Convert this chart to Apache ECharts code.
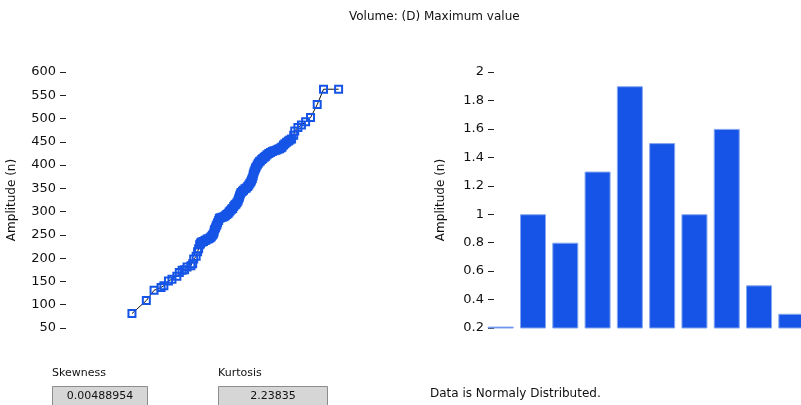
<!DOCTYPE html>
<html>
<head>
<meta charset="utf-8">
<script src="https://cdn.jsdelivr.net/npm/echarts@6/dist/echarts.min.js"></script>
<style>
  html, body { margin: 0; padding: 0; background: #fff; }
  #main { width: 801px; height: 405px; }
</style>
</head>
<body>
<div id="main"></div>
<script>
// normal probability plot: theoretical quantile (x) vs sorted maximum value (y)
const qqX = [-2.95, -2.54, -2.32, -2.12, -2.04, -1.91, -1.81, -1.67, -1.60, -1.52,
  -1.45, -1.38, -1.27, -1.22, -1.19, -1.12, -1.08, -1.05,
  -1.02, -1.00, -0.98, -0.95, -0.91, -0.87, -0.84, -0.80, -0.76, -0.72,
  -0.69, -0.66, -0.63, -0.61, -0.60, -0.57, -0.55, -0.53, -0.51, -0.48,
  -0.46, -0.42, -0.38, -0.33, -0.29, -0.25, -0.21, -0.18, -0.15, -0.11,
  -0.08, -0.05, -0.02, 0.01, 0.04, 0.07, 0.09, 0.11, 0.12, 0.14,
  0.16, 0.20, 0.23, 0.27, 0.31, 0.35, 0.38, 0.41, 0.44, 0.46,
  0.48, 0.50, 0.51, 0.53, 0.55, 0.57, 0.59, 0.62, 0.65, 0.68,
  0.71, 0.75, 0.78, 0.82, 0.86, 0.90, 0.95, 1.00, 1.05, 1.10,
  1.16, 1.21, 1.26, 1.30, 1.33, 1.37, 1.41, 1.46, 1.51, 1.55,
  1.60, 1.66, 1.69, 1.78, 1.88, 2.00, 2.14, 2.33, 2.51, 2.94]
const qqY = [81, 109, 131, 137, 141, 151, 155, 161, 169, 174,
  175, 181, 184, 188, 198, 204, 214, 220,
  229, 231, 234, 235, 236, 238, 239, 241, 242, 244,
  246, 249, 252, 256, 261, 265, 269, 272, 276, 281,
  286, 287, 288, 289, 291, 294, 296, 299, 302, 305,
  307, 311, 314, 316, 319, 323, 327, 331, 334, 338,
  341, 344, 346, 349, 351, 354, 357, 361, 364, 368,
  371, 376, 381, 385, 389, 393, 396, 400, 404, 407,
  409, 412, 414, 417, 419, 422, 425, 427, 429, 431,
  432, 434, 435, 437, 439, 443, 446, 449, 452, 454,
  456, 464, 473, 481, 486, 493, 502, 530, 563, 563]

// histogram bins
const binX = [0, 1, 2, 3, 4, 5, 6, 7, 8, 9]
const binY = [0.21, 1.0, 0.8, 1.3, 1.9, 1.5, 1.0, 1.6, 0.5, 0.3]

const titleText = 'Volume: (D) Maximum value'
const skewness = '0.00488954'
const kurtosis = '2.23835'
const verdict = 'Data is Normaly Distributed.'

const FONT = 'DejaVu Sans'
const BLUE = '#1554e6'

let chart = echarts.init(document.getElementById('main'))

let yAxisCommon = {
  axisLine: { show: false, onZero: false },
  splitLine: { show: false },
  axisTick: { show: true, length: 6, lineStyle: { color: '#222' } },
  axisLabel: { color: '#111', fontFamily: FONT, fontSize: 13, margin: 10 },
  nameLocation: 'middle',
  nameTextStyle: { color: '#111', fontFamily: FONT, fontSize: 12 }
}

let option = {
  backgroundColor: '#fff',
  animation: false,
  title: {
    text: titleText,
    left: 344,
    top: 6,
    textStyle: { color: '#111', fontFamily: FONT, fontSize: 12, fontWeight: 'normal' }
  },
  grid: [
    { left: 66, top: 72, width: 334, bottom: 77, containLabel: false },
    { left: 497, top: 72, right: 0, bottom: 77, containLabel: false }
  ],
  xAxis: [
    { type: 'value', gridIndex: 0, min: -4.83, max: 4.69, show: false },
    { type: 'value', gridIndex: 1, min: -0.115, max: 9.3, show: false }
  ],
  yAxis: [
    Object.assign({}, yAxisCommon, {
      type: 'value', gridIndex: 0, min: 50, max: 600, interval: 50,
      name: 'Amplitude (n)', nameGap: 48
    }),
    Object.assign({}, yAxisCommon, {
      type: 'value', gridIndex: 1, min: 0.2, max: 2, interval: 0.2,
      offset: 3,
      name: 'Amplitude (n)', nameGap: 47
    })
  ],
  series: [
    {
      type: 'line',
      xAxisIndex: 0,
      yAxisIndex: 0,
      data: qqX.map((x, i) => [x, qqY[i]]),
      symbol: 'rect',
      symbolSize: 7,
      showAllSymbol: true,
      lineStyle: { color: '#111', width: 1 },
      itemStyle: { color: 'rgba(255,255,255,0)', borderColor: BLUE, borderWidth: 2 }
    },
    {
      type: 'bar',
      xAxisIndex: 1,
      yAxisIndex: 1,
      data: binX.map((x, i) => [x, binY[i]]),
      barWidth: 26,
      clip: true,
      itemStyle: { color: BLUE, borderColor: '#86a6f0', borderWidth: 1 }
    }
  ],
  graphic: [
    { type: 'text', left: 52, top: 368, style: { text: 'Skewness', fill: '#111', font: '11px "DejaVu Sans"' } },
    { type: 'rect', shape: { x: 52.5, y: 386.5, width: 95, height: 24 },
      style: { fill: '#d6d6d6', stroke: '#8c8c8c', lineWidth: 1 } },
    { type: 'text', x: 100, y: 396, style: { text: skewness, fill: '#111', font: '11px "DejaVu Sans"', align: 'center', verticalAlign: 'middle' } },
    { type: 'text', left: 218, top: 368, style: { text: 'Kurtosis', fill: '#111', font: '11px "DejaVu Sans"' } },
    { type: 'rect', shape: { x: 218.5, y: 386.5, width: 109, height: 24 },
      style: { fill: '#d6d6d6', stroke: '#8c8c8c', lineWidth: 1 } },
    { type: 'text', x: 273, y: 396, style: { text: kurtosis, fill: '#111', font: '11px "DejaVu Sans"', align: 'center', verticalAlign: 'middle' } },
    { type: 'text', left: 430, top: 388, style: { text: verdict, fill: '#111', font: '12px "DejaVu Sans"' } }
  ]
}

chart.setOption(option)
</script>
</body>
</html>
